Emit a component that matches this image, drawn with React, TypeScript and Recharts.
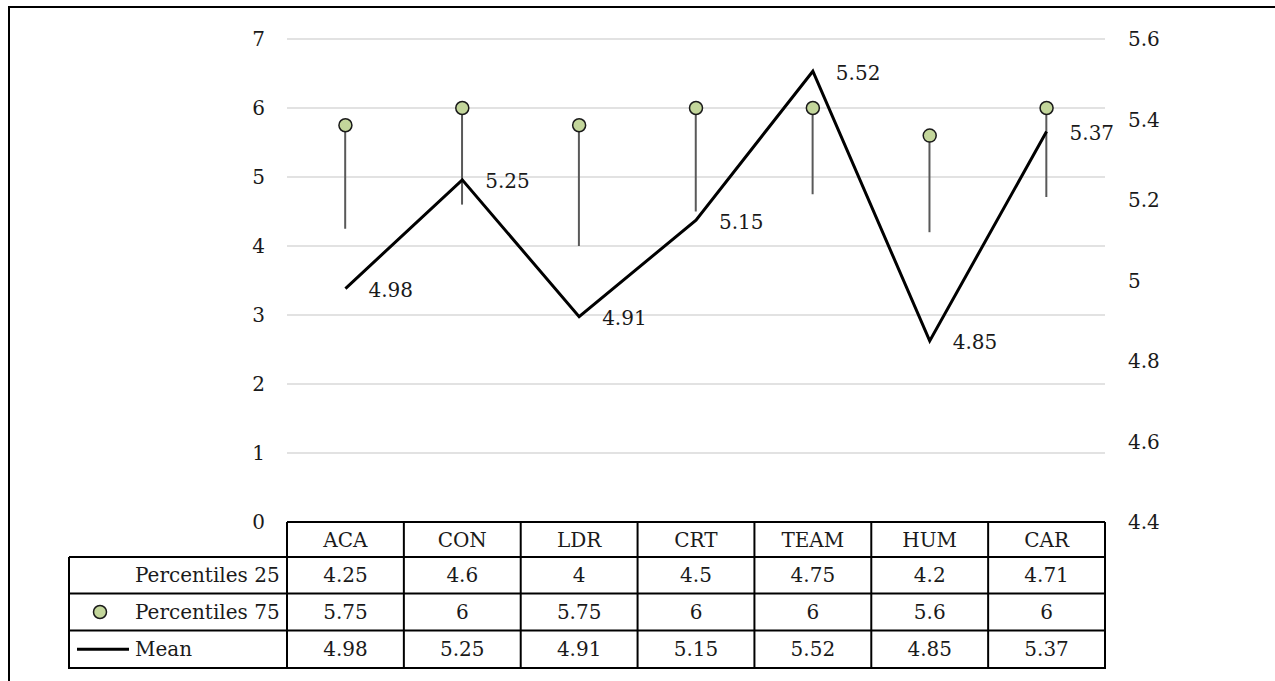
import React from 'react';
import { ComposedChart, Bar, Line, XAxis, YAxis, CartesianGrid, LabelList } from 'recharts';

const categories = ['ACA', 'CON', 'LDR', 'CRT', 'TEAM', 'HUM', 'CAR'];
const percentile25 = [4.25, 4.6, 4, 4.5, 4.75, 4.2, 4.71];
const percentile75 = [5.75, 6, 5.75, 6, 6, 5.6, 6];
const meanValues = [4.98, 5.25, 4.91, 5.15, 5.52, 4.85, 5.37];
const leftTicks = [0, 1, 2, 3, 4, 5, 6, 7];
const rightTicks = [4.4, 4.6, 4.8, 5, 5.2, 5.4, 5.6];
const seriesNames = ['Percentiles 25', 'Percentiles 75', 'Mean'];

const data = categories.map((c, i) => ({
  cat: c,
  range: [percentile25[i], percentile75[i]],
  p75: percentile75[i],
  mean: meanValues[i],
}));

const W = 1275;
const H = 681;
const PLOT_L = 287;
const PLOT_R = 1105;
const PLOT_T = 39;
const PLOT_B = 522;
const TABLE_L = 69;
const ROW_Y = [522, 557, 593.5, 630.5, 668];
const FONT = "'DejaVu Serif', serif";
const FS = 20;
const TEXT = '#1a1a1a';
const GREEN = '#c3d69b';

const RangeLine = (props: any) => {
  const { x, y, width, height } = props;
  if (x == null || y == null) return null;
  const cx = x + width / 2;
  const y1 = Math.min(y, y + height);
  const y2 = Math.max(y, y + height);
  return <line x1={cx} x2={cx} y1={y1} y2={y2} stroke="#595959" strokeWidth={2} />;
};

const MeanLabel = (props: any) => {
  const { x, y, value } = props;
  return (
    <text x={x + 23} y={y + 8.5} fontFamily={FONT} fontSize={FS} fill={TEXT} textAnchor="start">
      {String(value)}
    </text>
  );
};

const fmt = (v: number) => String(Math.round(v * 10) / 10);

const DataTable = () => {
  const colW = (PLOT_R - PLOT_L) / categories.length;
  const rows = [percentile25, percentile75, meanValues];
  const lines: React.ReactNode[] = [];
  lines.push(<line key="h0" x1={PLOT_L} x2={PLOT_R} y1={ROW_Y[0]} y2={ROW_Y[0]} stroke="#000" strokeWidth={2} />);
  for (let r = 1; r < ROW_Y.length; r++) {
    lines.push(<line key={'h' + r} x1={TABLE_L} x2={PLOT_R + 1} y1={ROW_Y[r]} y2={ROW_Y[r]} stroke="#000" strokeWidth={2} />);
  }
  for (let k = 0; k <= categories.length; k++) {
    const x = PLOT_L + k * colW;
    lines.push(<line key={'v' + k} x1={x} x2={x} y1={ROW_Y[0]} y2={ROW_Y[ROW_Y.length - 1] + 1} stroke="#000" strokeWidth={2} />);
  }
  lines.push(<line key="vl" x1={TABLE_L} x2={TABLE_L} y1={ROW_Y[1]} y2={ROW_Y[ROW_Y.length - 1] + 1} stroke="#000" strokeWidth={2} />);

  const texts: React.ReactNode[] = [];
  categories.forEach((c, i) => {
    const cx = PLOT_L + (i + 0.5) * colW;
    const cy = (ROW_Y[0] + ROW_Y[1]) / 2;
    texts.push(
      <text key={'c' + i} x={cx} y={cy + 7} textAnchor="middle" fontFamily={FONT} fontSize={FS} fill={TEXT}>{c}</text>
    );
  });
  rows.forEach((vals, r) => {
    const cy = (ROW_Y[r + 1] + ROW_Y[r + 2]) / 2;
    texts.push(
      <text key={'n' + r} x={135} y={cy + 7} textAnchor="start" fontFamily={FONT} fontSize={FS} fill={TEXT}>{seriesNames[r]}</text>
    );
    vals.forEach((v, i) => {
      const cx = PLOT_L + (i + 0.5) * colW;
      texts.push(
        <text key={'t' + r + '-' + i} x={cx} y={cy + 7} textAnchor="middle" fontFamily={FONT} fontSize={FS} fill={TEXT}>{String(v)}</text>
      );
    });
  });
  const r75 = (ROW_Y[2] + ROW_Y[3]) / 2;
  const rMean = (ROW_Y[3] + ROW_Y[4]) / 2;
  return (
    <svg width={W} height={H} style={{ position: 'absolute', left: 0, top: 0, pointerEvents: 'none' }}>
      {lines}
      <circle cx={100} cy={r75} r={6.5} fill={GREEN} stroke="#1a1a1a" strokeWidth={1.5} />
      <line x1={77} x2={129} y1={rMean} y2={rMean} stroke="#000" strokeWidth={3} />
      {texts}
    </svg>
  );
};

export default function App() {
  return (
    <div style={{ position: 'fixed', left: 0, top: 0, width: W, height: H, background: '#fff', overflow: 'hidden' }}>
      <div style={{ position: 'absolute', left: 8, top: 6, width: W, height: H, borderLeft: '2px solid #000', borderTop: '2px solid #000' }} />
      <div style={{ position: 'absolute', left: 0, top: 0 }}>
        <ComposedChart
          width={W}
          height={H}
          data={data}
          margin={{ top: PLOT_T, right: W - PLOT_R - 100, bottom: H - PLOT_B, left: 0 }}
        >
          <CartesianGrid yAxisId="left" vertical={false} stroke="#d9d9d9" strokeWidth={1.5} />
          <XAxis dataKey="cat" hide />
          <YAxis
            yAxisId="left"
            orientation="left"
            width={PLOT_L}
            domain={[0, 7]}
            ticks={leftTicks}
            axisLine={false}
            tickLine={false}
            tickMargin={16}
            tick={{ fontSize: FS, fontFamily: FONT, fill: TEXT }}
          />
          <YAxis
            yAxisId="right"
            orientation="right"
            width={100}
            domain={[4.4, 5.6]}
            ticks={rightTicks}
            tickFormatter={fmt}
            axisLine={false}
            tickLine={false}
            tickMargin={17}
            tick={{ fontSize: FS, fontFamily: FONT, fill: TEXT, textAnchor: 'start' }}
          />
          <Bar yAxisId="left" dataKey="range" shape={RangeLine} isAnimationActive={false} />
          <Line
            yAxisId="right"
            dataKey="mean"
            stroke="#000"
            strokeWidth={3}
            dot={false}
            activeDot={false}
            isAnimationActive={false}
          >
            <LabelList dataKey="mean" content={MeanLabel} />
          </Line>
          <Line
            yAxisId="left"
            dataKey="p75"
            stroke="none"
            dot={{ r: 6.5, fill: GREEN, stroke: '#1a1a1a', strokeWidth: 1.5 }}
            activeDot={false}
            isAnimationActive={false}
          />
        </ComposedChart>
      </div>
      <DataTable />
    </div>
  );
}
